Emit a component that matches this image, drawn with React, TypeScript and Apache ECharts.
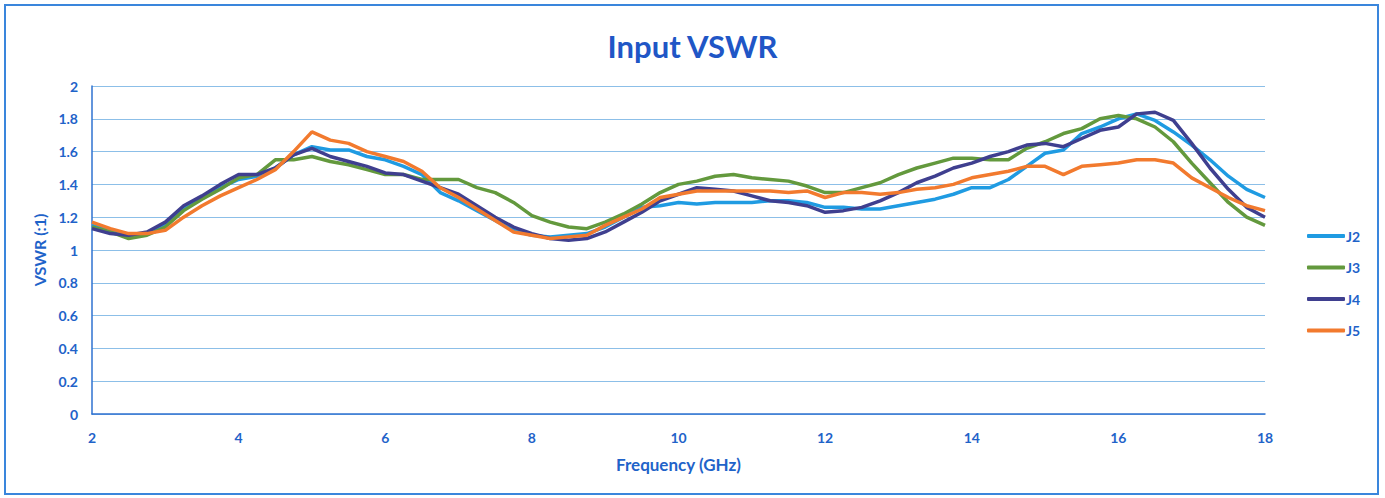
import React, { useEffect, useRef } from "react";
import * as echarts from "echarts";

const freqs = [
  2, 2.25, 2.5, 2.75, 3, 3.25, 3.5, 3.75, 4, 4.25, 4.5, 4.75, 5, 5.25, 5.5, 5.75, 6, 6.25, 6.5, 6.75,
  7, 7.25, 7.5, 7.75, 8, 8.25, 8.5, 8.75, 9, 9.25, 9.5, 9.75, 10, 10.25, 10.5, 10.75, 11, 11.25, 11.5, 11.75,
  12, 12.25, 12.5, 12.75, 13, 13.25, 13.5, 13.75, 14, 14.25, 14.5, 14.75, 15, 15.25, 15.5, 15.75, 16, 16.25,
  16.5, 16.75, 17, 17.25, 17.5, 17.75, 18,
];

const j2 = [
  1.15, 1.12, 1.09, 1.1, 1.15, 1.25, 1.32, 1.38, 1.43, 1.45, 1.5, 1.58, 1.63, 1.61, 1.61, 1.57, 1.55, 1.51, 1.46, 1.35,
  1.3, 1.24, 1.18, 1.12, 1.09, 1.08, 1.09, 1.1, 1.14, 1.2, 1.26, 1.27, 1.29, 1.28, 1.29, 1.29, 1.29, 1.3, 1.3, 1.29,
  1.26, 1.26, 1.25, 1.25, 1.27, 1.29, 1.31, 1.34, 1.38, 1.38, 1.43, 1.51, 1.59, 1.61, 1.71, 1.75, 1.8, 1.83,
  1.79, 1.72, 1.64, 1.55, 1.45, 1.37, 1.32,
];

const j3 = [
  1.14, 1.11, 1.07, 1.09, 1.14, 1.24, 1.31, 1.37, 1.44, 1.46, 1.55, 1.55, 1.57, 1.54, 1.52, 1.49, 1.46, 1.46, 1.43, 1.43,
  1.43, 1.38, 1.35, 1.29, 1.21, 1.17, 1.14, 1.13, 1.17, 1.22, 1.28, 1.35, 1.4, 1.42, 1.45, 1.46, 1.44, 1.43, 1.42, 1.39,
  1.35, 1.35, 1.38, 1.41, 1.46, 1.5, 1.53, 1.56, 1.56, 1.55, 1.55, 1.62, 1.66, 1.71, 1.74, 1.8, 1.82, 1.8,
  1.75, 1.66, 1.53, 1.41, 1.29, 1.2, 1.15,
];

const j4 = [
  1.13, 1.1, 1.09, 1.11, 1.17, 1.27, 1.33, 1.4, 1.46, 1.46, 1.5, 1.58, 1.62, 1.57, 1.54, 1.51, 1.47, 1.46, 1.42, 1.38,
  1.34, 1.27, 1.2, 1.14, 1.1, 1.07, 1.06, 1.07, 1.11, 1.17, 1.23, 1.3, 1.34, 1.38, 1.37, 1.36, 1.33, 1.3, 1.29, 1.27,
  1.23, 1.24, 1.26, 1.3, 1.35, 1.41, 1.45, 1.5, 1.53, 1.57, 1.6, 1.64, 1.65, 1.63, 1.68, 1.73, 1.75, 1.83,
  1.84, 1.79, 1.65, 1.5, 1.37, 1.26, 1.2,
];

const j5 = [
  1.17, 1.13, 1.1, 1.1, 1.12, 1.2, 1.27, 1.33, 1.38, 1.43, 1.49, 1.6, 1.72, 1.67, 1.65, 1.6, 1.57, 1.54, 1.48, 1.38,
  1.32, 1.25, 1.18, 1.11, 1.09, 1.07, 1.08, 1.09, 1.15, 1.2, 1.25, 1.32, 1.34, 1.36, 1.36, 1.36, 1.36, 1.36, 1.35, 1.36,
  1.32, 1.35, 1.35, 1.34, 1.35, 1.37, 1.38, 1.4, 1.44, 1.46, 1.48, 1.51, 1.51, 1.46, 1.51, 1.52, 1.53, 1.55,
  1.55, 1.53, 1.44, 1.38, 1.32, 1.27, 1.24,
];

const seriesNames = ["J2", "J3", "J4", "J5"];
const seriesValues = [j2, j3, j4, j5];
const seriesColors = ["#1f9be2", "#63993d", "#3f3f8f", "#f27a2e"];

const blue = "#1f63c9";
const FONT = "Lato, 'Open Sans', sans-serif";

export default function App() {
  const ref = useRef<HTMLDivElement>(null);

  useEffect(() => {
    if (!ref.current) return;
    const chart = echarts.init(ref.current, undefined, { renderer: "svg" });
    chart.setOption({
      animation: false,
      backgroundColor: "#ffffff",
      textStyle: { fontFamily: FONT },
      title: {
        text: "Input VSWR",
        left: "center",
        top: 25,
        textStyle: { color: "#2056c6", fontSize: 31, fontWeight: "bold", fontFamily: FONT },
      },
      graphic: [
        {
          type: "rect",
          shape: { x: 5, y: 5, width: 1373, height: 489 },
          style: { fill: "none", stroke: "#3a86dc", lineWidth: 2 },
          silent: true,
        },
      ],
      legend: {
        orient: "vertical",
        left: 1302,
        top: 224,
        itemWidth: 38,
        itemHeight: 4,
        itemGap: 17.5,
        icon: "roundRect",
        data: seriesNames,
        textStyle: { color: blue, fontSize: 14, fontWeight: "bold", fontFamily: FONT, padding: [0, 0, 0, -4] },
      },
      grid: { left: 92, right: 120, top: 86, bottom: 84 },
      xAxis: {
        type: "value",
        min: 2,
        max: 18,
        interval: 2,
        name: "Frequency (GHz)",
        nameLocation: "middle",
        nameGap: 42,
        nameTextStyle: { color: blue, fontSize: 17, fontWeight: "bold", fontFamily: FONT },
        axisLine: { show: true, lineStyle: { color: "#2f72d0", width: 1.5 } },
        axisTick: { show: false },
        splitLine: { show: false },
        axisLabel: { color: blue, fontSize: 14, fontWeight: "bold", margin: 16, fontFamily: FONT },
      },
      yAxis: {
        type: "value",
        min: 0,
        max: 2,
        interval: 0.2,
        name: "VSWR (:1)",
        nameLocation: "middle",
        nameGap: 45,
        nameRotate: 90,
        nameTextStyle: { color: blue, fontSize: 16, fontWeight: "bold", fontFamily: FONT },
        axisLine: { show: true, lineStyle: { color: "#2f72d0", width: 1.5 } },
        axisTick: { show: false },
        splitLine: { show: true, lineStyle: { color: "#8cbfe8", width: 1 } },
        axisLabel: {
          color: blue,
          fontSize: 14,
          fontWeight: "bold",
          margin: 14,
          fontFamily: FONT,
          formatter: (v: number) => String(Math.round(v * 10) / 10),
        },
      },
      series: seriesNames.map((name, i) => ({
        name,
        type: "line",
        data: freqs.map((f, k) => [f, seriesValues[i][k]]),
        showSymbol: false,
        symbol: "none",
        lineStyle: { color: seriesColors[i], width: 3.5 },
        itemStyle: { color: seriesColors[i] },
      })),
    });
    return () => chart.dispose();
  }, []);

  return (
    <div
      ref={ref}
      style={{ position: "fixed", left: 0, top: 0, width: 1385, height: 498, background: "#fff" }}
    />
  );
}
